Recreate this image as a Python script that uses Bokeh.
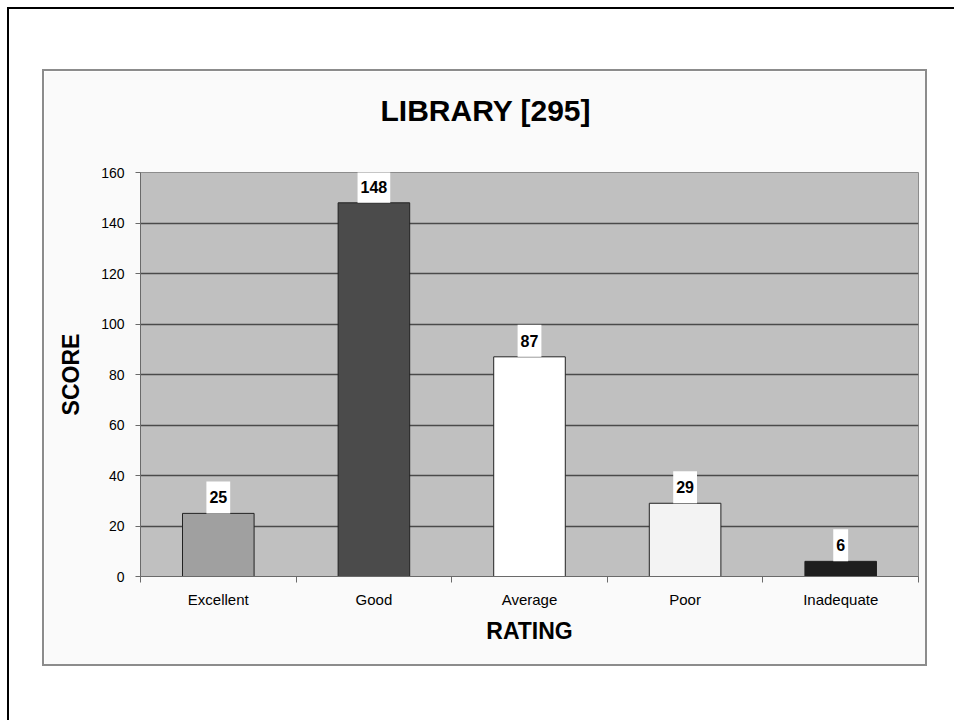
from bokeh.plotting import figure
from bokeh.layouts import column
from bokeh.models import Range1d, FixedTicker, Label, Title
from bokeh.embed import file_html
from bokeh.resources import INLINE

# ---- data ----
title_text = "LIBRARY [295]"
categories = ["Excellent", "Good", "Average", "Poor", "Inadequate"]
scores = [25, 148, 87, 29, 6]
y_ticks = [0, 20, 40, 60, 80, 100, 120, 140, 160]
x_axis_title = "RATING"
y_axis_title = "SCORE"

# ---- style / layout ----
bar_colors = ["#A0A0A0", "#4B4B4B", "#FFFFFF", "#F3F3F3", "#1E1E1E"]
FONT = "Liberation Sans"
AXIS_COL = "#6a6a6a"

p = figure(width=881, height=593, output_backend="svg", toolbar_location=None,
           x_range=Range1d(0, len(categories)),
           y_range=Range1d(y_ticks[0], y_ticks[-1]),
           min_border_left=96, min_border_right=11,
           min_border_top=101, min_border_bottom=92,
           margin=(60, 0, 0, 33),
           styles={"border": "2px solid #8c8c8c", "box-sizing": "content-box"})

p.background_fill_color = "#C0C0C0"
p.border_fill_color = "#FAFAFA"
p.outline_line_color = "#8c8c8c"
p.outline_line_width = 1

# title (a blank spacer title between it and the plot area lifts it up)
p.title.text = title_text
p.title.align = "left"
p.title.offset = 240
p.title.standoff = 0
p.title.text_font = FONT
p.title.text_font_size = "30px"
p.title.text_font_style = "bold"
p.title.text_color = "#000000"
p.add_layout(Title(text=" ", text_font_size="10px", standoff=33), "above")

positions = [i + 0.5 for i in range(len(categories))]

p.vbar(x=positions, top=scores, bottom=0, width=0.46,
       fill_color=bar_colors, line_color="#222222", line_width=1)

# grid
p.xgrid.visible = False
p.ygrid.ticker = FixedTicker(ticks=y_ticks[1:-1])
p.ygrid.grid_line_color = "#4a4a4a"
p.ygrid.grid_line_width = 1.5

# y axis
ya = p.yaxis[0]
ya.ticker = FixedTicker(ticks=y_ticks)
ya.axis_line_color = AXIS_COL
ya.major_tick_line_color = AXIS_COL
ya.major_tick_out = 5
ya.major_tick_in = 0
ya.minor_tick_line_color = None
ya.major_label_text_font = FONT
ya.major_label_text_font_size = "14px"
ya.major_label_text_color = "#000000"
ya.major_label_standoff = 11
ya.axis_label = y_axis_title
ya.axis_label_text_font = FONT
ya.axis_label_text_font_size = "23px"
ya.axis_label_text_font_style = "bold"
ya.axis_label_text_color = "#000000"
ya.axis_label_standoff = 14

# x axis
xa = p.xaxis[0]
xa.ticker = FixedTicker(ticks=positions, minor_ticks=list(range(len(categories) + 1)))
xa.major_label_overrides = {pos: cat for pos, cat in zip(positions, categories)}
xa.axis_line_color = AXIS_COL
xa.major_tick_line_color = None
xa.major_tick_out = 0
xa.major_tick_in = 0
xa.minor_tick_line_color = AXIS_COL
xa.minor_tick_out = 6
xa.minor_tick_in = 0
xa.major_label_text_font = FONT
xa.major_label_text_font_size = "15px"
xa.major_label_text_color = "#000000"
xa.major_label_standoff = 8
xa.axis_label = x_axis_title
xa.axis_label_text_font = FONT
xa.axis_label_text_font_size = "23px"
xa.axis_label_text_font_style = "bold"
xa.axis_label_text_color = "#000000"
xa.axis_label_standoff = 7

# data labels
for xpos, v in zip(positions, scores):
    p.add_layout(Label(x=xpos, y=v, text=str(v), y_offset=16,
                       text_align="center", text_baseline="middle",
                       text_font=FONT, text_font_size="16px", text_font_style="bold",
                       text_color="#000000", background_fill_color="#FFFFFF",
                       padding=dict(left=3, right=3, top=10, bottom=10)))

page = column(p, width=947, height=713, margin=(7, 0, 0, 7),
              styles={"border-left": "2px solid #000000",
                      "border-top": "2px solid #000000",
                      "background-color": "#FFFFFF"})

open("out.html", "w").write(file_html(page, INLINE))
